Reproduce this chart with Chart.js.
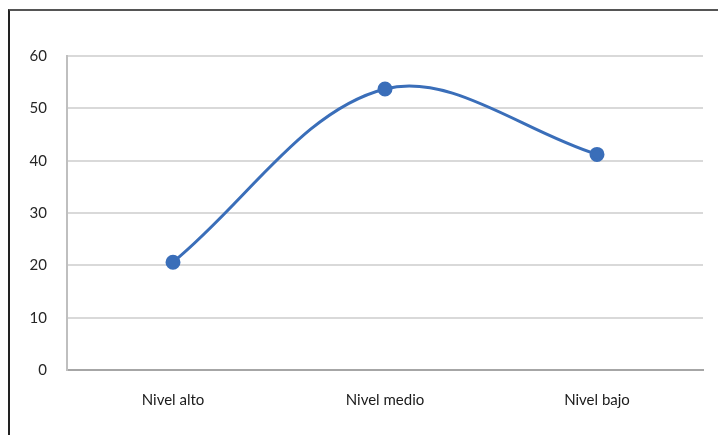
<!DOCTYPE html>
<html>
<head>
<meta charset="utf-8">
<script src="https://cdn.jsdelivr.net/npm/chart.js@4/dist/chart.umd.min.js"></script>
<style>
  html, body { margin: 0; padding: 0; background: #fff; }
  #wrap { position: relative; width: 718px; height: 435px; }
  #frame { position: absolute; left: 8px; top: 9px; right: 0; bottom: 0;
           border-left: 2px solid #222; border-top: 2px solid #555; }
  canvas { position: absolute; left: 0; top: 0; }
</style>
</head>
<body>
<div id="wrap">
  <div id="frame"></div>
  <canvas id="myChart" width="718" height="435"></canvas>
</div>
<script>
  const labels = ['Nivel alto', 'Nivel medio', 'Nivel bajo'];
  const values = [20.6, 53.7, 41.2];
  const yTicks = [0, 10, 20, 30, 40, 50, 60];

  const data = {
    labels: labels,
    datasets: [{
      data: values,
      borderColor: 'rgb(58, 110, 185)',
      backgroundColor: 'rgb(58, 110, 185)',
      borderWidth: 3,
      pointRadius: 6,
      pointHoverRadius: 6,
      tension: 0.35,
      fill: false,
    }]
  };

  const config = {
    type: 'line',
    data,
    options: {
      responsive: false,
      animation: false,
      layout: { padding: { top: 56, right: 15 } },
      plugins: {
        legend: { display: false },
        tooltip: { enabled: false }
      },
      scales: {
        x: {
          offset: true,
          grid: { display: false, drawTicks: false },
          border: { color: '#a6a6a6', width: 2 },
          ticks: { color: '#1a1a1a', padding: 21, font: { family: 'Lato', size: 15 } },
          afterFit: (s) => { s.height = 65; }
        },
        y: {
          min: yTicks[0],
          max: yTicks[yTicks.length - 1],
          afterBuildTicks: (s) => { s.ticks = yTicks.map(v => ({ value: v })); },
          grid: { color: '#d9d9d9', lineWidth: 2, drawTicks: false },
          border: { color: '#bfbfbf', width: 2 },
          ticks: { color: '#262626', padding: 20, font: { family: 'Lato', size: 15 } },
          afterFit: (s) => { s.width = 67; }
        }
      }
    }
  };

  var myChart = new Chart(document.getElementById('myChart'), config);
</script>
</body>
</html>
